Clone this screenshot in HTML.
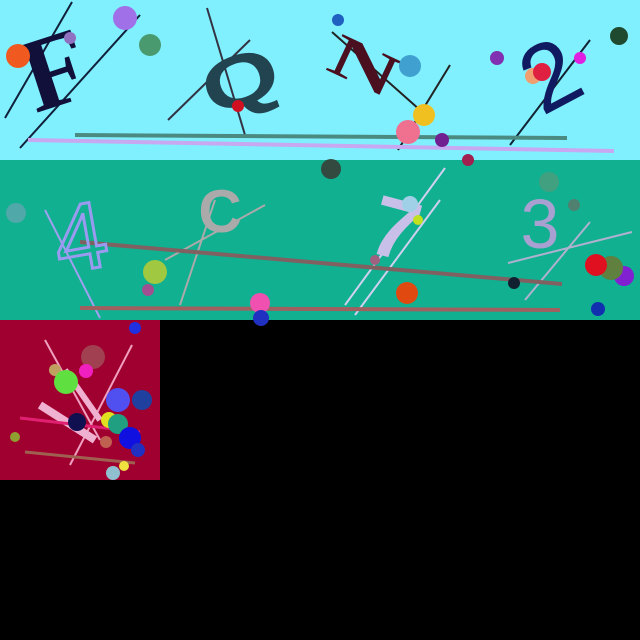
<!DOCTYPE html>
<html><head><meta charset="utf-8"><style>
html,body{margin:0;padding:0;background:#000;width:640px;height:640px;overflow:hidden}
svg{display:block}
</style></head><body>
<svg width="640" height="640" viewBox="0 0 640 640" xmlns="http://www.w3.org/2000/svg">
<rect x="0" y="0" width="640" height="640" fill="#000"/>
<g>
<rect x="0" y="0" width="640" height="160" fill="#80f0ff"/>
<line x1="5" y1="118" x2="72" y2="2" stroke="#10203a" stroke-width="2"/>
<line x1="20" y1="148" x2="140" y2="15" stroke="#10203a" stroke-width="2"/>
<line x1="168" y1="120" x2="250" y2="40" stroke="#334" stroke-width="2"/>
<line x1="207" y1="8" x2="245" y2="135" stroke="#334" stroke-width="2"/>
<line x1="332" y1="32" x2="420" y2="110" stroke="#222" stroke-width="2"/>
<line x1="398" y1="150" x2="450" y2="65" stroke="#222" stroke-width="2"/>
<line x1="510" y1="145" x2="590" y2="40" stroke="#123" stroke-width="2"/>
<line x1="75" y1="135" x2="567" y2="138" stroke="#4a8a80" stroke-width="4"/>
<line x1="28" y1="140" x2="614" y2="151" stroke="#c8a8f0" stroke-width="4"/>
<text x="55" y="105" font-family="Liberation Serif, serif" font-weight="bold" font-size="105" fill="#10103a" transform="rotate(-18 55 70)" text-anchor="middle">F</text>
<g transform="translate(240 80) rotate(-20) scale(1.25 0.9)"><text x="0" y="28" font-family="Liberation Sans, sans-serif" font-weight="bold" font-size="80" fill="#224450" text-anchor="middle">Q</text></g>
<g transform="translate(365 65) rotate(25) scale(1.3 0.8)"><text x="0" y="26" font-family="Liberation Serif, serif" font-weight="bold" font-size="75" fill="#4a1020" text-anchor="middle">N</text></g>
<text x="550" y="108" font-family="Liberation Sans, sans-serif" font-size="95" fill="#101a60" transform="rotate(-28 550 75)" text-anchor="middle">2</text>
<circle cx="18" cy="56" r="12" fill="#f05a20"/>
<circle cx="125" cy="18" r="12" fill="#a070e8"/>
<circle cx="150" cy="45" r="11" fill="#4a9a70"/>
<circle cx="70" cy="38" r="6" fill="#9070c0"/>
<circle cx="238" cy="106" r="6" fill="#d01020"/>
<circle cx="338" cy="20" r="6" fill="#2060c0"/>
<circle cx="410" cy="66" r="11" fill="#40a0d0"/>
<circle cx="424" cy="115" r="11" fill="#f0c020"/>
<circle cx="408" cy="132" r="12" fill="#f07090"/>
<circle cx="442" cy="140" r="7" fill="#702090"/>
<circle cx="497" cy="58" r="7" fill="#8030b0"/>
<circle cx="533" cy="76" r="8" fill="#f0a070"/>
<circle cx="542" cy="72" r="9" fill="#e02040"/>
<circle cx="580" cy="58" r="6" fill="#e020e0"/>
<circle cx="619" cy="36" r="9" fill="#204a30"/>
</g>
<g>
<rect x="0" y="160" width="640" height="160" fill="#10b090"/>
<line x1="45" y1="210" x2="100" y2="318" stroke="#a0a0f0" stroke-width="2"/>
<line x1="180" y1="305" x2="215" y2="200" stroke="#aaa" stroke-width="2"/>
<line x1="165" y1="260" x2="265" y2="205" stroke="#aaa" stroke-width="2"/>
<line x1="345" y1="305" x2="445" y2="168" stroke="#d0d0f0" stroke-width="2"/>
<line x1="355" y1="315" x2="440" y2="200" stroke="#d0d0f0" stroke-width="2"/>
<line x1="508" y1="263" x2="632" y2="232" stroke="#b0b0d0" stroke-width="2"/>
<line x1="525" y1="300" x2="590" y2="222" stroke="#b0b0d0" stroke-width="2"/>
<line x1="80" y1="242" x2="562" y2="284" stroke="#806060" stroke-width="4"/>
<line x1="80" y1="308" x2="560" y2="310" stroke="#a06060" stroke-width="4"/>
<text x="80" y="270" font-family="Liberation Sans, sans-serif" font-size="95" fill="none" stroke="#9a9af0" stroke-width="3" transform="rotate(-10 80 235)" text-anchor="middle">4</text>
<text x="220" y="232" font-family="Liberation Sans, sans-serif" font-weight="bold" font-size="60" fill="#aaaaaa" text-anchor="middle">C</text>
<text x="395" y="258" font-family="Liberation Sans, sans-serif" font-weight="bold" font-size="85" fill="#c8c0e8" transform="rotate(15 395 230)" text-anchor="middle">7</text>
<text x="540" y="248" font-family="Liberation Sans, sans-serif" font-size="70" fill="#a8a0d0" text-anchor="middle">3</text>
<circle cx="16" cy="213" r="10" fill="#50a8a8"/>
<circle cx="331" cy="169" r="10" fill="#334a40"/>
<circle cx="468" cy="160" r="6" fill="#a02050"/>
<circle cx="155" cy="272" r="12" fill="#a0c840"/>
<circle cx="148" cy="290" r="6" fill="#a05090"/>
<circle cx="410" cy="204" r="8" fill="#a0d0e8"/>
<circle cx="418" cy="220" r="5" fill="#c0e020"/>
<circle cx="375" cy="260" r="5" fill="#a06080"/>
<circle cx="407" cy="293" r="11" fill="#e04a10"/>
<circle cx="260" cy="303" r="10" fill="#f050b0"/>
<circle cx="261" cy="318" r="8" fill="#2030c0"/>
<circle cx="549" cy="182" r="10" fill="#40a080"/>
<circle cx="574" cy="205" r="6" fill="#508070"/>
<circle cx="514" cy="283" r="6" fill="#102030"/>
<circle cx="624" cy="276" r="10" fill="#8020d0"/>
<circle cx="611" cy="268" r="12" fill="#608040"/>
<circle cx="596" cy="265" r="11" fill="#e01020"/>
<circle cx="598" cy="309" r="7" fill="#1030b0"/>
</g>
<g>
<rect x="0" y="320" width="160" height="160" fill="#a00030"/>
<line x1="45" y1="340" x2="100" y2="440" stroke="#f0a0c0" stroke-width="2"/>
<line x1="70" y1="465" x2="132" y2="345" stroke="#f0a0c0" stroke-width="2"/>
<line x1="40" y1="405" x2="95" y2="440" stroke="#f0b0d0" stroke-width="8"/>
<line x1="65" y1="370" x2="100" y2="420" stroke="#f0b0d0" stroke-width="6"/>
<line x1="20" y1="418" x2="140" y2="432" stroke="#e02070" stroke-width="3"/>
<line x1="25" y1="452" x2="135" y2="463" stroke="#a06050" stroke-width="3"/>
<circle cx="135" cy="328" r="6" fill="#2030e0"/>
<circle cx="93" cy="357" r="12" fill="#a04050"/>
<circle cx="55" cy="370" r="6" fill="#c0a060"/>
<circle cx="86" cy="371" r="7" fill="#f020c0"/>
<circle cx="66" cy="382" r="12" fill="#60e040"/>
<circle cx="118" cy="400" r="12" fill="#5050f0"/>
<circle cx="142" cy="400" r="10" fill="#2040a0"/>
<circle cx="109" cy="420" r="8" fill="#e0e020"/>
<circle cx="118" cy="424" r="10" fill="#20a080"/>
<circle cx="77" cy="422" r="9" fill="#101050"/>
<circle cx="130" cy="438" r="11" fill="#1010e0"/>
<circle cx="138" cy="450" r="7" fill="#2030c0"/>
<circle cx="106" cy="442" r="6" fill="#c06050"/>
<circle cx="15" cy="437" r="5" fill="#90a030"/>
<circle cx="124" cy="466" r="5" fill="#f0e040"/>
<circle cx="113" cy="473" r="7" fill="#90c0d0"/>
</g>
</svg>
</body></html>
